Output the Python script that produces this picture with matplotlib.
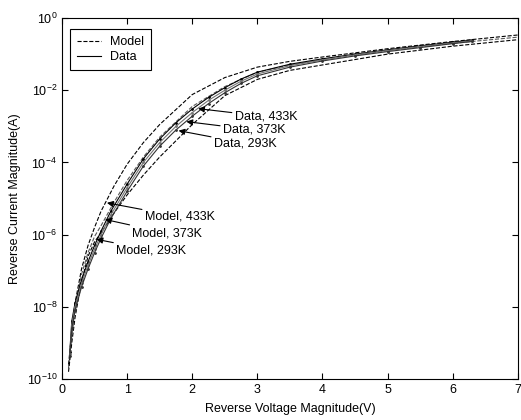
import numpy as np
import matplotlib
matplotlib.use('Agg')
import matplotlib.pyplot as plt
from matplotlib.lines import Line2D

plt.rcParams['font.family'] = ['Liberation Sans', 'DejaVu Sans']
plt.rcParams['mathtext.default'] = 'regular'
plt.rcParams['font.size'] = 9

# measured data (log10 of current magnitude)
v_data = [0.12, 0.15, 0.2, 0.3, 0.4, 0.5, 0.6, 0.75, 1.0, 1.25, 1.5, 1.75, 2.0, 2.25,
          2.5, 2.75, 3.0, 3.5, 4.0, 4.5, 5.0, 5.5, 6.0, 6.3]
data_433 = [-9.25, -8.4, -7.9, -7.25, -6.75, -6.3, -5.9, -5.35, -4.6, -3.9, -3.35, -2.9,
            -2.52, -2.2, -1.93, -1.69, -1.5, -1.28, -1.13, -1.0, -0.88, -0.77, -0.67, -0.61]
data_373 = [-9.3, -8.5, -8.0, -7.35, -6.85, -6.4, -6.0, -5.45, -4.7, -4.0, -3.45, -3.0,
            -2.62, -2.28, -2.0, -1.75, -1.55, -1.32, -1.16, -1.02, -0.9, -0.79, -0.69, -0.63]
data_293 = [-9.35, -8.6, -8.1, -7.45, -6.95, -6.5, -6.1, -5.55, -4.8, -4.1, -3.55, -3.1,
            -2.72, -2.37, -2.07, -1.81, -1.6, -1.36, -1.19, -1.05, -0.93, -0.82, -0.71, -0.65]

# model curves (log10)
v_model = [0.1, 0.15, 0.2, 0.3, 0.4, 0.5, 0.6, 0.8, 1.0, 1.25, 1.5, 2.0, 2.5, 3.0,
           3.5, 4.0, 5.0, 6.0, 7.0]
model_433 = [-9.6, -8.7, -7.9, -6.95, -6.3, -5.8, -5.35, -4.65, -4.05, -3.45, -2.95, -2.12,
             -1.65, -1.36, -1.2, -1.08, -0.85, -0.65, -0.47]
model_373 = [-9.7, -8.8, -8.05, -7.1, -6.5, -6.05, -5.75, -5.1, -4.5, -3.85, -3.3, -2.45,
             -1.9, -1.5, -1.3, -1.15, -0.9, -0.7, -0.53]
model_293 = [-9.8, -9.0, -8.3, -7.3, -6.6, -6.2, -5.95, -5.4, -4.9, -4.35, -3.85, -2.95,
             -2.15, -1.7, -1.45, -1.3, -1.0, -0.78, -0.6]

# annotation labels, arrow tips and text anchors (V, log10 I)
labels = ['Data, 433K', 'Data, 373K', 'Data, 293K',
          'Model, 433K', 'Model, 373K', 'Model, 293K']
tips = [(2.09, -2.51), (1.91, -2.87), (1.79, -3.12),
        (0.69, -5.12), (0.66, -5.58), (0.53, -6.13)]
text_pos = [(2.65, -2.73), (2.47, -3.10), (2.33, -3.47),
            (1.27, -5.50), (1.08, -5.96), (0.83, -6.43)]

fig = plt.figure(figsize=(5.21, 4.20), dpi=100)
ax = fig.add_axes([0.119, 0.0976, 0.875, 0.8595])

def lin(a):
    return 10 ** np.array(a)

ax.plot(v_model, lin(model_433), '--', color='k', lw=0.8)
ax.plot(v_model, lin(model_373), '--', color='0.35', lw=0.8)
ax.plot(v_model, lin(model_293), '--', color='k', lw=0.8)

ax.plot(v_data, lin(data_433), '-', color='k', lw=0.8, marker='.', ms=2)
ax.plot(v_data, lin(data_373), '-', color='0.45', lw=0.8, marker='.', ms=2)
ax.plot(v_data, lin(data_293), '-', color='0.2', lw=0.8, marker='.', ms=2)

for lab, tip, tp in zip(labels, tips, text_pos):
    ax.annotate(lab, xy=(tip[0], 10 ** tip[1]), xytext=(tp[0], 10 ** tp[1]),
                ha='left', va='center', fontsize=9,
                arrowprops=dict(arrowstyle='-|>', color='k', lw=0.8,
                                mutation_scale=9, shrinkA=0, shrinkB=0))

ax.set_yscale('log')
ax.set_xlim(0, 7)
ax.set_ylim(1e-10, 1)
ax.set_yticks([1e-10, 1e-8, 1e-6, 1e-4, 1e-2, 1])
ax.set_yticklabels([r'$10^{-10}$', r'$10^{-8}$', r'$10^{-6}$', r'$10^{-4}$',
                    r'$10^{-2}$', r'$10^{0}$'])
ax.minorticks_off()
ax.set_xticks(range(8))
ax.tick_params(direction='in', top=True, right=True, length=4, width=0.8, labelsize=9)
for s in ax.spines.values():
    s.set_linewidth(0.8)

ax.set_xlabel('Reverse Voltage Magnitude(V)', fontsize=9, labelpad=5)
ax.set_ylabel('Reverse Current Magnitude(A)', fontsize=9, labelpad=4)

handles = [Line2D([], [], ls='--', color='k', lw=0.8),
           Line2D([], [], ls='-', color='k', lw=0.8)]
leg = ax.legend(handles, ['Model', 'Data'], loc='upper left',
                bbox_to_anchor=(0.0175, 0.9695), borderaxespad=0,
                fancybox=False, edgecolor='k', framealpha=1, fontsize=9,
                handlelength=1.9, handletextpad=0.75, borderpad=0.55,
                labelspacing=0.25)
leg.get_frame().set_linewidth(0.8)

fig.savefig('out.png', dpi=100)
